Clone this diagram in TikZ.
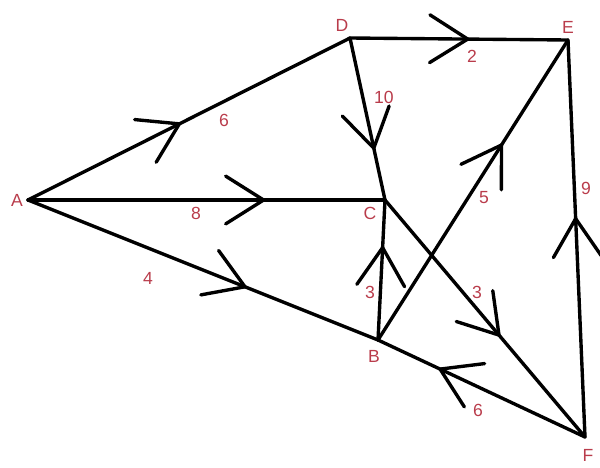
\documentclass[tikz,border=0pt]{standalone}
\usepackage{fontspec}
\setmainfont{Liberation Sans}
\usetikzlibrary{decorations.markings}
\definecolor{lbl}{RGB}{185,60,75}
\tikzset{
  darr/.style={line width=2.4pt, line cap=round, line join=round,
    postaction={decorate},
    decoration={markings, mark=at position #1 with {\draw[line width=2.4pt,line cap=round,line join=miter] (-27pt,17pt) -- (0,0) -- (-27pt,-17pt);}}},
  lab/.style={text=lbl, font=\fontsize{12.5pt}{12.5pt}\selectfont, inner sep=0pt},
}
\begin{document}
\begin{tikzpicture}[x=0.025cm,y=-0.025cm]
\useasboundingbox (0,0) rectangle (600,468);
\coordinate (A) at (28,200);
\coordinate (D) at (350,38);
\coordinate (E) at (568,40);
\coordinate (C) at (385,200);
\coordinate (B) at (378,340);
\coordinate (F) at (585,437);
% vertex labels
\node[lab] (lA) at (17,200) {A};
\node[lab] (lD) at (342,25) {D};
\node[lab] (lE) at (568,27) {E};
\node[lab] (lC) at (370,213) {C};
\node[lab] (lB) at (374,356) {B};
\node[lab] (lF) at (588,455) {F};
% edges
\draw[darr=0.47] (A) -- (D);
\draw[darr=0.54] (D) -- (E);
\draw[darr=0.68] (D) -- (C);
\draw[darr=0.66] (A) -- (C);
\draw[darr=0.62] (A) -- (B);
\draw[darr=0.66] (B) -- (C);
\draw[darr=0.65] (B) -- (E);
\draw[darr=0.57] (C) -- (F);
\draw[darr=0.70] (F) -- (B);
\draw[darr=0.55] (F) -- (E);
% weights
\node[lab] (w1) at (224,120) {6};
\node[lab] (w2) at (472,56) {2};
\node[lab] (w3) at (384,97) {10};
\node[lab] (w4) at (196,213) {8};
\node[lab] (w5) at (148,278) {4};
\node[lab] (w6) at (370,292) {3};
\node[lab] (w7) at (484,198) {5};
\node[lab] (w8) at (477,292) {3};
\node[lab] (w9) at (478,410) {6};
\node[lab] (w10) at (586,188) {9};
\end{tikzpicture}
\end{document}
